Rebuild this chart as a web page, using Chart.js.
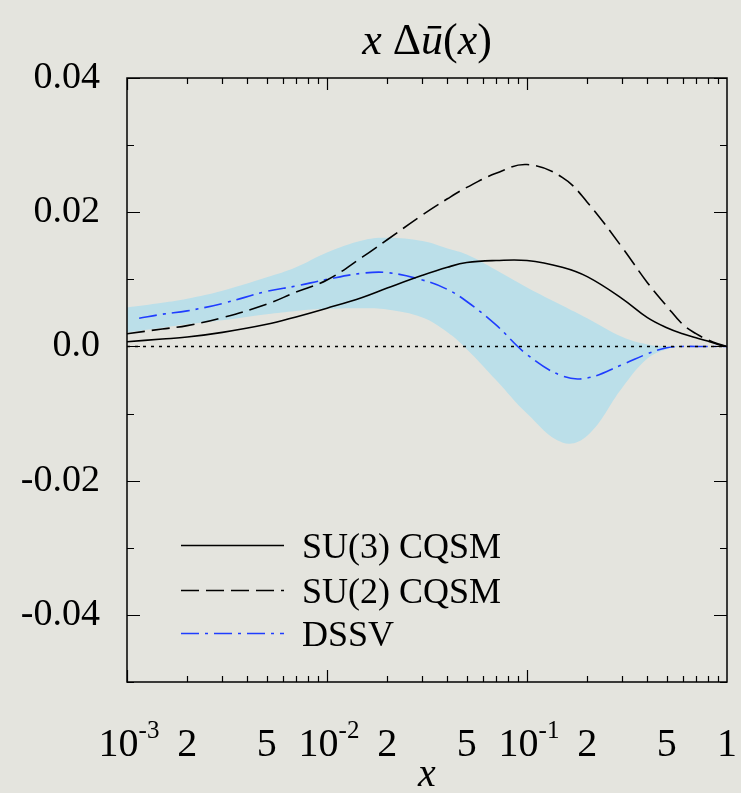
<!DOCTYPE html>
<html>
<head>
<meta charset="utf-8">
<script src="https://cdn.jsdelivr.net/npm/chart.js@4/dist/chart.umd.min.js"></script>
<style>
  html, body { margin: 0; padding: 0; background: #e4e4de; }
  canvas { display: block; }
</style>
</head>
<body>
<canvas id="c" width="741" height="793"></canvas>
<script>
// Shared momentum-fraction grid for the model curves and the DSSV band
const xGrid = [0.001, 0.0015, 0.002, 0.003, 0.005, 0.007, 0.01, 0.015, 0.02, 0.03, 0.04, 0.05,
               0.07, 0.1, 0.15, 0.2, 0.3, 0.4, 0.5, 0.6, 0.7, 0.8, 0.9, 1.0];

// x * Delta ubar(x)
const su3Cqsm = [0.0007, 0.0011, 0.0014, 0.0021, 0.0033, 0.0044, 0.0057, 0.0073, 0.0087, 0.0106, 0.0118, 0.0125,
                 0.0128, 0.0128, 0.0118, 0.0104, 0.0071, 0.0043, 0.0028, 0.0019, 0.0013, 0.0008, 0.0003, 0];
const su2Cqsm = [0.0019, 0.0026, 0.0031, 0.0043, 0.0063, 0.0081, 0.0099, 0.0133, 0.0159, 0.0196, 0.0220, 0.0237,
                 0.0258, 0.0271, 0.0252, 0.0215, 0.0147, 0.0095, 0.0060, 0.0033, 0.0019, 0.0010, 0.0004, 0];

// DSSV central curve (starts slightly above x = 1e-3)
const dssvX = [0.00115, 0.0015, 0.002, 0.003, 0.005, 0.007, 0.01, 0.015, 0.02, 0.03, 0.04, 0.05,
               0.07, 0.1, 0.15, 0.2, 0.3, 0.4, 0.5, 0.6, 0.7, 0.8, 0.9, 1.0];
const dssv = [0.0042, 0.0048, 0.0053, 0.0064, 0.0082, 0.0090, 0.0100, 0.0109, 0.0110, 0.0099, 0.0085, 0.0067,
              0.0032, -0.0012, -0.0044, -0.0047, -0.0027, -0.0011, -0.0002, 0, 0, 0, 0, 0];

// DSSV uncertainty band
const bandUpper = [0.0058, 0.0065, 0.0071, 0.0083, 0.0103, 0.0118, 0.0140, 0.0158, 0.0162, 0.0157, 0.0146, 0.0137,
                   0.0114, 0.0088, 0.0061, 0.0042, 0.0014, 0.0003, 0, 0, 0, 0, 0, 0];
const bandLower = [0.0021, 0.0028, 0.0033, 0.0039, 0.0048, 0.0053, 0.0056, 0.0057, 0.0055, 0.0043, 0.0021, -0.0004,
                   -0.0050, -0.0100, -0.0143, -0.0133, -0.0061, -0.0018, -0.0004, 0, 0, 0, 0, 0];

// Axis tick labels
const xTickValues = [0.001, 0.002, 0.005, 0.01, 0.02, 0.05, 0.1, 0.2, 0.5, 1];
const xTickBases  = ['10', '2', '5', '10', '2', '5', '10', '2', '5', '1'];
const xTickExps   = ['-3', '', '', '-2', '', '', '-1', '', '', ''];
const yTickValues = [0.04, 0.02, 0, -0.02, -0.04];
const yTickLabels = ['0.04', '0.02', '0.0', '-0.02', '-0.04'];

const legendLabels = ['SU(3) CQSM', 'SU(2) CQSM', 'DSSV'];

const SERIF = '"Liberation Serif", "DejaVu Serif", serif';
const BLUE = '#1f3dff';
const BAND = '#bbdfe9';

const pts = (xs, ys) => xs.map((v, i) => ({ x: v, y: ys[i] }));

const styles = [
  { color: '#000', dash: [] },
  { color: '#000', dash: [18, 7] },
  { color: BLUE, dash: [18, 6, 3, 6] }
];

const framePlugin = {
  id: 'frameAndText',
  afterDraw(chart) {
    const { ctx, chartArea: a, scales: { x, y } } = chart;
    ctx.save();
    ctx.strokeStyle = '#000';
    ctx.fillStyle = '#000';
    ctx.lineWidth = 1.5;
    ctx.setLineDash([]);
    ctx.strokeRect(a.left, a.top, a.right - a.left, a.bottom - a.top);

    // x tick marks (top and bottom, inside)
    ctx.lineWidth = 1.2;
    for (let d = -3; d <= -1; d++) {
      for (let m = 1; m <= 9; m++) {
        const v = m * Math.pow(10, d);
        const px = Math.round(x.getPixelForValue(v)) + 0.5;
        const len = m === 1 ? 12 : 6;
        ctx.beginPath();
        ctx.moveTo(px, a.bottom); ctx.lineTo(px, a.bottom - len);
        ctx.moveTo(px, a.top); ctx.lineTo(px, a.top + len);
        ctx.stroke();
      }
    }
    // y tick marks (left and right, inside)
    for (let k = -5; k <= 4; k++) {
      const py = Math.round(y.getPixelForValue(k / 100)) + 0.5;
      const len = (k % 2 === 0) ? 13 : 7;
      ctx.beginPath();
      ctx.moveTo(a.left, py); ctx.lineTo(a.left + len, py);
      ctx.moveTo(a.right, py); ctx.lineTo(a.right - len, py);
      ctx.stroke();
    }

    // x tick labels with superscript exponents
    ctx.textBaseline = 'alphabetic';
    xTickValues.forEach((v, i) => {
      const px = x.getPixelForValue(v);
      ctx.font = '40px ' + SERIF;
      const wb = ctx.measureText(xTickBases[i]).width;
      ctx.font = '25px ' + SERIF;
      const we = xTickExps[i] ? ctx.measureText(xTickExps[i]).width : 0;
      const x0 = px - (wb + we) / 2 + (xTickExps[i] ? 2 : 0);
      ctx.textAlign = 'left';
      ctx.font = '40px ' + SERIF;
      ctx.fillText(xTickBases[i], x0, 756);
      if (xTickExps[i]) {
        ctx.font = '25px ' + SERIF;
        ctx.fillText(xTickExps[i], x0 + wb, 738);
      }
    });

    // axis title
    ctx.textAlign = 'center';
    ctx.font = 'italic 40px ' + SERIF;
    ctx.fillText('x', (a.left + a.right) / 2, 786);

    // plot title: x Δū(x)
    const segs = [
      ['x', true], [' Δ', false], ['ū', true], ['(', false], ['x', true], [')', false]
    ];
    const tFont = '44px ' + SERIF;
    let total = 0;
    segs.forEach(s => {
      ctx.font = (s[1] ? 'italic ' : '') + tFont;
      total += ctx.measureText(s[0]).width;
    });
    let tx = (a.left + a.right) / 2 - total / 2;
    ctx.textAlign = 'left';
    segs.forEach(s => {
      ctx.font = (s[1] ? 'italic ' : '') + tFont;
      ctx.fillText(s[0], tx, 54);
      tx += ctx.measureText(s[0]).width;
    });

    // legend
    const rowsY = [545, 590, 633];
    const baseY = [558, 603, 646];
    legendLabels.forEach((lab, i) => {
      ctx.strokeStyle = styles[i].color;
      ctx.lineWidth = 1.6;
      ctx.setLineDash(styles[i].dash);
      ctx.beginPath();
      ctx.moveTo(181, rowsY[i] + 0.5);
      ctx.lineTo(284, rowsY[i] + 0.5);
      ctx.stroke();
      ctx.setLineDash([]);
      ctx.fillStyle = '#000';
      ctx.font = '36px ' + SERIF;
      ctx.textAlign = 'left';
      ctx.fillText(lab, 302, baseY[i]);
    });
    ctx.restore();
  }
};

const lineDefaults = { pointRadius: 0, borderWidth: 1.6, fill: false, tension: 0.4 };

new Chart(document.getElementById('c'), {
  type: 'line',
  data: {
    datasets: [
      { ...lineDefaults, label: 'band lower', data: pts(xGrid, bandLower), borderWidth: 0, borderColor: 'rgba(0,0,0,0)' },
      { ...lineDefaults, label: 'band upper', data: pts(xGrid, bandUpper), borderWidth: 0, borderColor: 'rgba(0,0,0,0)',
        fill: '-1', backgroundColor: BAND },
      { label: 'zero', data: [{ x: 0.001, y: 0 }, { x: 1, y: 0 }], pointRadius: 0, borderWidth: 1.5,
        borderColor: '#000', borderDash: [3, 5], fill: false },
      { ...lineDefaults, label: legendLabels[0], data: pts(xGrid, su3Cqsm), borderColor: styles[0].color },
      { ...lineDefaults, label: legendLabels[1], data: pts(xGrid, su2Cqsm), borderColor: styles[1].color, borderDash: styles[1].dash },
      { ...lineDefaults, label: legendLabels[2], data: pts(dssvX, dssv), borderColor: styles[2].color, borderDash: styles[2].dash }
    ]
  },
  options: {
    responsive: false,
    animation: false,
    layout: { padding: { left: 0, right: 14, top: 78, bottom: 111 } },
    plugins: {
      legend: { display: false },
      tooltip: { enabled: false },
      filler: { drawTime: 'beforeDatasetsDraw' }
    },
    scales: {
      x: {
        type: 'logarithmic', min: 0.001, max: 1,
        grid: { display: false, drawTicks: false },
        border: { display: false },
        ticks: { display: false },
        afterFit: s => { s.height = 0; }
      },
      y: {
        type: 'linear', min: -0.05, max: 0.04,
        grid: { display: false, drawTicks: false },
        border: { display: false },
        afterBuildTicks: s => {
          s.ticks = yTickValues.map(v => ({ value: v }));
        },
        ticks: {
          padding: 27,
          color: '#000',
          font: { family: SERIF, size: 38 },
          callback: v => {
            const i = yTickValues.findIndex(t => Math.abs(t - v) < 1e-9);
            return i >= 0 ? yTickLabels[i] : '';
          }
        },
        afterFit: s => { s.width = 127; }
      }
    }
  },
  plugins: [framePlugin]
});
</script>
</body>
</html>
